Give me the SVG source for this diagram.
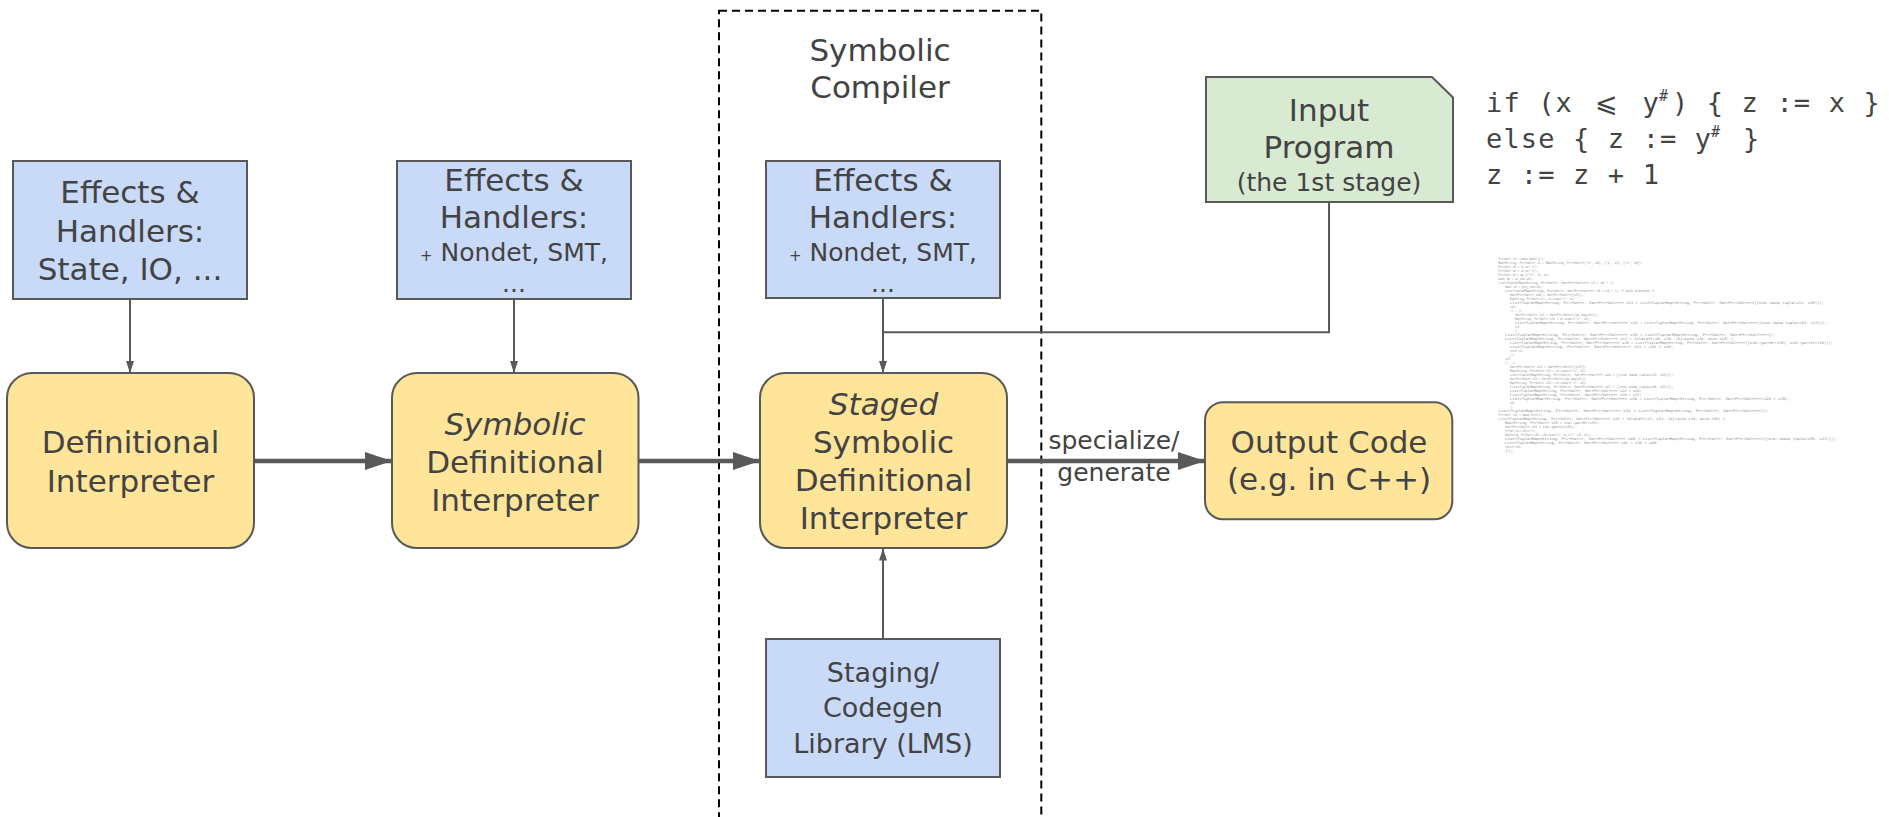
<svg xmlns="http://www.w3.org/2000/svg" width="1889" height="817" viewBox="0 0 1889 817">
  <style>
    .blue { fill: #c9daf8; stroke: #595959; stroke-width: 2; }
    .yellow { fill: #ffe599; stroke: #595959; stroke-width: 2; }
    .green { fill: #d9ead3; stroke: #595959; stroke-width: 2; }
    .lbl { font-family: "DejaVu Sans", sans-serif; font-size: 31px; fill: #434343; text-anchor: middle; }
    .sm { font-size: 25px; }
    .md { font-size: 27px; }
    .it { font-style: italic; }
    .thin { fill: none; stroke: #595959; stroke-width: 2; }
    .thick { fill: none; stroke: #595959; stroke-width: 4.5; }
    .code { font-family: "DejaVu Sans Mono", monospace; font-size: 27px; fill: #444444; letter-spacing: 1.15px; }
    .gen { font-family: "DejaVu Sans Mono", monospace; font-size: 3.4px; fill: #8a8a8a; }
  </style>
  <defs>
    <marker id="headThin" viewBox="0 0 12 8" refX="12" refY="4" markerWidth="12" markerHeight="8" markerUnits="userSpaceOnUse" orient="auto">
      <path d="M0,0 L12,4 L0,8 Z" fill="#595959"/>
    </marker>
    <marker id="headThick" viewBox="0 0 27 18" refX="27" refY="9" markerWidth="27" markerHeight="18" markerUnits="userSpaceOnUse" orient="auto">
      <path d="M0,0 L27,9 L0,18 Z" fill="#595959"/>
    </marker>
  </defs>

  <rect width="1889" height="817" fill="#ffffff"/>

  <!-- compiler boundary -->
  <g id="symbolic-compiler">
    <rect x="719" y="10.7" width="322.3" height="830" fill="none" stroke="#000000" stroke-width="2" stroke-dasharray="8 5"/>
    <text class="lbl" x="880" y="61">Symbolic</text>
    <text class="lbl" x="880" y="98">Compiler</text>
  </g>

  <!-- connectors -->
  <g id="connectors">
    <path class="thin" d="M130,299 V373" marker-end="url(#headThin)"/>
    <path class="thin" d="M514,299 V373" marker-end="url(#headThin)"/>
    <path class="thin" d="M883,298 V373" marker-end="url(#headThin)"/>
    <path class="thin" d="M1329,202 V332.3 H883"/>
    <path class="thin" d="M883,639 V548.5" marker-end="url(#headThin)"/>
    <path class="thick" d="M254,461 H392" marker-end="url(#headThick)"/>
    <path class="thick" d="M638.5,461 H760" marker-end="url(#headThick)"/>
    <path class="thick" d="M1007,461 H1205" marker-end="url(#headThick)"/>
    <text class="lbl sm" x="1114" y="449">specialize/</text>
    <text class="lbl sm" x="1114" y="481">generate</text>
  </g>

  <!-- effect handler boxes -->
  <g id="effects-base">
    <rect class="blue" x="13" y="161" width="234" height="138"/>
    <text class="lbl" x="130" y="203.3">Effects &amp;</text>
    <text class="lbl" x="130" y="241.7">Handlers:</text>
    <text class="lbl" x="130" y="280">State, IO, ...</text>
  </g>
  <g id="effects-symbolic">
    <rect class="blue" x="397" y="161" width="234" height="138"/>
    <text class="lbl" x="514" y="190.7">Effects &amp;</text>
    <text class="lbl" x="514" y="228.3">Handlers:</text>
    <text class="lbl sm" x="514" y="260.7"><tspan font-size="15px">+</tspan> Nondet, SMT,</text>
    <text class="lbl sm" x="514" y="291.7">...</text>
  </g>
  <g id="effects-staged">
    <rect class="blue" x="766" y="161" width="234" height="137"/>
    <text class="lbl" x="883" y="190.7">Effects &amp;</text>
    <text class="lbl" x="883" y="228.3">Handlers:</text>
    <text class="lbl sm" x="883" y="260.7"><tspan font-size="15px">+</tspan> Nondet, SMT,</text>
    <text class="lbl sm" x="883" y="291.7">...</text>
  </g>

  <!-- interpreters -->
  <g id="definitional-interpreter">
    <rect class="yellow" x="7" y="373" width="247" height="175" rx="25"/>
    <text class="lbl" x="130.5" y="453.3">Definitional</text>
    <text class="lbl" x="130.5" y="491.7">Interpreter</text>
  </g>
  <g id="symbolic-interpreter">
    <rect class="yellow" x="392" y="373" width="246.5" height="175" rx="25"/>
    <text class="lbl it" x="515" y="435">Symbolic</text>
    <text class="lbl" x="515" y="472.7">Definitional</text>
    <text class="lbl" x="515" y="510.7">Interpreter</text>
  </g>
  <g id="staged-interpreter">
    <rect class="yellow" x="760" y="373" width="247" height="175" rx="25"/>
    <text class="lbl it" x="883.5" y="415">Staged</text>
    <text class="lbl" x="883.5" y="452.7">Symbolic</text>
    <text class="lbl" x="883.5" y="490.7">Definitional</text>
    <text class="lbl" x="883.5" y="529.3">Interpreter</text>
  </g>

  <!-- staging library -->
  <g id="staging-library">
    <rect class="blue" x="766" y="639" width="234" height="138"/>
    <text class="lbl md" x="883" y="681.7">Staging/</text>
    <text class="lbl md" x="883" y="717.3">Codegen</text>
    <text class="lbl md" x="883" y="753.3">Library (LMS)</text>
  </g>

  <!-- input program (folded-corner note) -->
  <g id="input-program">
    <path class="green" d="M1206,77 H1432 L1453,97.5 V202 H1206 Z"/>
    <text class="lbl" x="1329" y="120.7">Input</text>
    <text class="lbl" x="1329" y="158.3">Program</text>
    <text class="lbl sm" x="1329" y="191">(the 1st stage)</text>
  </g>

  <!-- output code -->
  <g id="output-code">
    <rect class="yellow" x="1205" y="402.3" width="247.3" height="117" rx="18"/>
    <text class="lbl" x="1329" y="453.3">Output Code</text>
    <text class="lbl" x="1329" y="490">(e.g. in C++)</text>
  </g>

  <!-- source program listing -->
  <g id="source-listing">
    <text class="code" y="112"><tspan x="1486">if (x</tspan><tspan x="1642.6">y</tspan><tspan x="1659" y="101" font-size="15px">#</tspan><tspan x="1672" y="112">) { z := x }</tspan></text>
    <text class="code" x="1607" y="112" text-anchor="middle" letter-spacing="0">⩽</text>
    <text class="code" y="148"><tspan x="1486">else { z := y</tspan><tspan x="1711" y="137" font-size="15px">#</tspan><tspan x="1743" y="148">}</tspan></text>
    <text class="code" x="1486" y="184">z := z + 1</text>
  </g>

  <!-- generated C++ listing (rendered very small) -->
  <g id="generated-listing" class="gen">
    <text x="1498.3" y="260.2" textLength="46.7" lengthAdjust="spacingAndGlyphs">Ptr&lt;Val&gt; x1 = make_SymV("y");</text>
    <text x="1498.3" y="264.2" textLength="144.3" lengthAdjust="spacingAndGlyphs">Map&lt;String, Ptr&lt;Val&gt;&gt; x2 = Map&lt;String, Ptr&lt;Val&gt;&gt;{{"x", x0}, {"y", x1}, {"z", x0}};</text>
    <text x="1498.3" y="268.2" textLength="40" lengthAdjust="spacingAndGlyphs">Ptr&lt;Val&gt; x3 = x2.at("x");</text>
    <text x="1498.3" y="272.2" textLength="40" lengthAdjust="spacingAndGlyphs">Ptr&lt;Val&gt; x4 = x2.at("y");</text>
    <text x="1498.3" y="276.2" textLength="51.7" lengthAdjust="spacingAndGlyphs">Ptr&lt;Val&gt; x5 = op_2("&lt;=", x3, x4);</text>
    <text x="1498.3" y="280.2" textLength="35" lengthAdjust="spacingAndGlyphs">bool x6 = is_sat(x5);</text>
    <text x="1498.3" y="284.2" textLength="115" lengthAdjust="spacingAndGlyphs">List&lt;Tuple&lt;Map&lt;String, Ptr&lt;Val&gt;&gt;, Set&lt;Ptr&lt;Val&gt;&gt;&gt;&gt; x7 = x6 ? ({</text>
    <text x="1505" y="288.2" textLength="38.3" lengthAdjust="spacingAndGlyphs">bool x8 = proj_sat(x5);</text>
    <text x="1505" y="292.2" textLength="150" lengthAdjust="spacingAndGlyphs">List&lt;Tuple&lt;Map&lt;String, Ptr&lt;Val&gt;&gt;, Set&lt;Ptr&lt;Val&gt;&gt;&gt;&gt; x9 = x8 ? ({ /* both branches */</text>
    <text x="1510" y="296.2" textLength="73.3" lengthAdjust="spacingAndGlyphs">Set&lt;Ptr&lt;Val&gt;&gt; x10 = Set&lt;Ptr&lt;Val&gt;&gt;{{x5}};</text>
    <text x="1510" y="300.2" textLength="65" lengthAdjust="spacingAndGlyphs">Map&lt;String, Ptr&lt;Val&gt;&gt; x11 = x2.insert("z", x3);</text>
    <text x="1510" y="304.2" textLength="314" lengthAdjust="spacingAndGlyphs">List&lt;Tuple&lt;Map&lt;String, Ptr&lt;Val&gt;&gt;, Set&lt;Ptr&lt;Val&gt;&gt;&gt;&gt; x12 = List&lt;Tuple&lt;Map&lt;String, Ptr&lt;Val&gt;&gt;, Set&lt;Ptr&lt;Val&gt;&gt;&gt;&gt;{{std::make_tuple(x11, x10)}};</text>
    <text x="1510" y="308.2" textLength="6.7" lengthAdjust="spacingAndGlyphs">x12;</text>
    <text x="1510" y="312.2" textLength="11.7" lengthAdjust="spacingAndGlyphs">}) : ({</text>
    <text x="1515" y="316.2" textLength="83.3" lengthAdjust="spacingAndGlyphs">Set&lt;Ptr&lt;Val&gt;&gt; x13 = Set&lt;Ptr&lt;Val&gt;&gt;{{op_neg(x5)}};</text>
    <text x="1515" y="320.2" textLength="75" lengthAdjust="spacingAndGlyphs">Map&lt;String, Ptr&lt;Val&gt;&gt; x14 = x2.insert("z", x4);</text>
    <text x="1515" y="324.2" textLength="311.7" lengthAdjust="spacingAndGlyphs">List&lt;Tuple&lt;Map&lt;String, Ptr&lt;Val&gt;&gt;, Set&lt;Ptr&lt;Val&gt;&gt;&gt;&gt; x15 = List&lt;Tuple&lt;Map&lt;String, Ptr&lt;Val&gt;&gt;, Set&lt;Ptr&lt;Val&gt;&gt;&gt;&gt;{{std::make_tuple(x14, x13)}};</text>
    <text x="1515" y="328.2" textLength="5" lengthAdjust="spacingAndGlyphs">x15;</text>
    <text x="1515" y="332.2" textLength="3.3" lengthAdjust="spacingAndGlyphs">});</text>
    <text x="1505" y="336.2" textLength="270" lengthAdjust="spacingAndGlyphs">List&lt;Tuple&lt;Map&lt;String, Ptr&lt;Val&gt;&gt;, Set&lt;Ptr&lt;Val&gt;&gt;&gt;&gt; x16 = List&lt;Tuple&lt;Map&lt;String, Ptr&lt;Val&gt;&gt;, Set&lt;Ptr&lt;Val&gt;&gt;&gt;&gt;{};</text>
    <text x="1505" y="340.2" textLength="228.3" lengthAdjust="spacingAndGlyphs">List&lt;Tuple&lt;Map&lt;String, Ptr&lt;Val&gt;&gt;, Set&lt;Ptr&lt;Val&gt;&gt;&gt;&gt; x17 = foldLeft(x9, x16, [&amp;](auto x18, auto x19) {</text>
    <text x="1510" y="344.2" textLength="322.7" lengthAdjust="spacingAndGlyphs">List&lt;Tuple&lt;Map&lt;String, Ptr&lt;Val&gt;&gt;, Set&lt;Ptr&lt;Val&gt;&gt;&gt;&gt; x20 = List&lt;Tuple&lt;Map&lt;String, Ptr&lt;Val&gt;&gt;, Set&lt;Ptr&lt;Val&gt;&gt;&gt;&gt;{{std::get&lt;0&gt;(x19), std::get&lt;1&gt;(x19)}};</text>
    <text x="1510" y="348.2" textLength="163.3" lengthAdjust="spacingAndGlyphs">List&lt;Tuple&lt;Map&lt;String, Ptr&lt;Val&gt;&gt;, Set&lt;Ptr&lt;Val&gt;&gt;&gt;&gt; x21 = x18 + x20;</text>
    <text x="1510" y="352.2" textLength="13.3" lengthAdjust="spacingAndGlyphs">return x21;</text>
    <text x="1510" y="356.2" textLength="5" lengthAdjust="spacingAndGlyphs">});</text>
    <text x="1505" y="360.2" textLength="6.7" lengthAdjust="spacingAndGlyphs">x17;</text>
    <text x="1505" y="364.2" textLength="10" lengthAdjust="spacingAndGlyphs">}) : ({</text>
    <text x="1510" y="368.2" textLength="76.7" lengthAdjust="spacingAndGlyphs">Set&lt;Ptr&lt;Val&gt;&gt; x22 = Set&lt;Ptr&lt;Val&gt;&gt;{{x5}};</text>
    <text x="1510" y="372.2" textLength="76.7" lengthAdjust="spacingAndGlyphs">Map&lt;String, Ptr&lt;Val&gt;&gt; x23 = x2.insert("z", x3);</text>
    <text x="1510" y="376.2" textLength="163.3" lengthAdjust="spacingAndGlyphs">List&lt;Tuple&lt;Map&lt;String, Ptr&lt;Val&gt;&gt;, Set&lt;Ptr&lt;Val&gt;&gt;&gt;&gt; x24 = {{std::make_tuple(x23, x22)}};</text>
    <text x="1510" y="380.2" textLength="76.7" lengthAdjust="spacingAndGlyphs">Set&lt;Ptr&lt;Val&gt;&gt; x25 = Set&lt;Ptr&lt;Val&gt;&gt;{{op_neg(x5)}};</text>
    <text x="1510" y="384.2" textLength="76.7" lengthAdjust="spacingAndGlyphs">Map&lt;String, Ptr&lt;Val&gt;&gt; x26 = x2.insert("z", x4);</text>
    <text x="1510" y="388.2" textLength="163.3" lengthAdjust="spacingAndGlyphs">List&lt;Tuple&lt;Map&lt;String, Ptr&lt;Val&gt;&gt;, Set&lt;Ptr&lt;Val&gt;&gt;&gt;&gt; x27 = {{std::make_tuple(x26, x25)}};</text>
    <text x="1510" y="392.2" textLength="131.7" lengthAdjust="spacingAndGlyphs">List&lt;Tuple&lt;Map&lt;String, Ptr&lt;Val&gt;&gt;, Set&lt;Ptr&lt;Val&gt;&gt;&gt;&gt; x28 = x24;</text>
    <text x="1510" y="396.2" textLength="131.7" lengthAdjust="spacingAndGlyphs">List&lt;Tuple&lt;Map&lt;String, Ptr&lt;Val&gt;&gt;, Set&lt;Ptr&lt;Val&gt;&gt;&gt;&gt; x29 = x27;</text>
    <text x="1510" y="400.2" textLength="280" lengthAdjust="spacingAndGlyphs">List&lt;Tuple&lt;Map&lt;String, Ptr&lt;Val&gt;&gt;, Set&lt;Ptr&lt;Val&gt;&gt;&gt;&gt; x30 = List&lt;Tuple&lt;Map&lt;String, Ptr&lt;Val&gt;&gt;, Set&lt;Ptr&lt;Val&gt;&gt;&gt;&gt;(x28 + x29);</text>
    <text x="1510" y="404.2" textLength="5" lengthAdjust="spacingAndGlyphs">x30;</text>
    <text x="1510" y="408.2" textLength="3.3" lengthAdjust="spacingAndGlyphs">});</text>
    <text x="1498.3" y="412.2" textLength="270" lengthAdjust="spacingAndGlyphs">List&lt;Tuple&lt;Map&lt;String, Ptr&lt;Val&gt;&gt;, Set&lt;Ptr&lt;Val&gt;&gt;&gt;&gt; x31 = List&lt;Tuple&lt;Map&lt;String, Ptr&lt;Val&gt;&gt;, Set&lt;Ptr&lt;Val&gt;&gt;&gt;&gt;{};</text>
    <text x="1498.3" y="416.2" textLength="45" lengthAdjust="spacingAndGlyphs">Ptr&lt;Val&gt; x32 = make_IntV(1);</text>
    <text x="1498.3" y="420.2" textLength="226.7" lengthAdjust="spacingAndGlyphs">List&lt;Tuple&lt;Map&lt;String, Ptr&lt;Val&gt;&gt;, Set&lt;Ptr&lt;Val&gt;&gt;&gt;&gt; x33 = foldLeft(x7, x31, [&amp;](auto x34, auto x35) {</text>
    <text x="1505" y="424.2" textLength="95" lengthAdjust="spacingAndGlyphs">Map&lt;String, Ptr&lt;Val&gt;&gt; x36 = std::get&lt;0&gt;(x35);</text>
    <text x="1505" y="428.2" textLength="70" lengthAdjust="spacingAndGlyphs">Set&lt;Ptr&lt;Val&gt;&gt; x37 = std::get&lt;1&gt;(x35);</text>
    <text x="1505" y="432.2" textLength="31.7" lengthAdjust="spacingAndGlyphs">Ptr&lt;Val&gt; x38 = x36.at("z");</text>
    <text x="1505" y="436.2" textLength="86.7" lengthAdjust="spacingAndGlyphs">Map&lt;String, Ptr&lt;Val&gt;&gt; x39 = x36.insert("z", op_2("+", x38, x32));</text>
    <text x="1505" y="440.2" textLength="331.7" lengthAdjust="spacingAndGlyphs">List&lt;Tuple&lt;Map&lt;String, Ptr&lt;Val&gt;&gt;, Set&lt;Ptr&lt;Val&gt;&gt;&gt;&gt; x40 = List&lt;Tuple&lt;Map&lt;String, Ptr&lt;Val&gt;&gt;, Set&lt;Ptr&lt;Val&gt;&gt;&gt;&gt;{{std::make_tuple(x39, x37)}};</text>
    <text x="1505" y="444.2" textLength="153.3" lengthAdjust="spacingAndGlyphs">List&lt;Tuple&lt;Map&lt;String, Ptr&lt;Val&gt;&gt;, Set&lt;Ptr&lt;Val&gt;&gt;&gt;&gt; x41 = x34 + x40;</text>
    <text x="1505" y="448.2" textLength="16.7" lengthAdjust="spacingAndGlyphs">return x41;</text>
    <text x="1505" y="452.2" textLength="8.3" lengthAdjust="spacingAndGlyphs">});</text>
  </g>
</svg>
